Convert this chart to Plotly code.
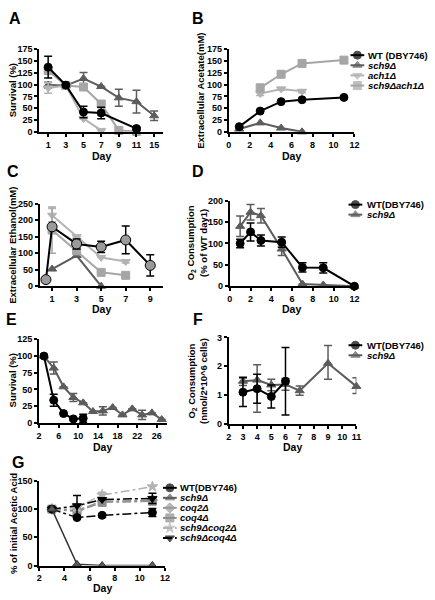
import plotly.graph_objects as go

W, H = 435, 600
FONT = "Liberation Sans, Arial, sans-serif"

# ---------------- data ----------------
# Panel A: survival (%)
A_days = ["1", "3", "5", "7", "9", "11", "15"]
A_wt = [137, 99, 42, 40, None, 7, None]
A_wt_err = [23, 0, 12, 12, 0, 3, 0]
A_sch9 = [99, 98, 113, 96, 72, 64, 34]
A_sch9_err = [6, 0, 13, 0, 18, 24, 10]
A_ach1 = [93, 98, 28, 3, None, None, None]
A_ach1_err = [11, 0, 0, 0, 0, 0, 0]
A_sch9ach1 = [130, 98, 95, 59, 3, 1, None]
A_sch9ach1_err = [8, 0, 7, 0, 0, 0, 0]

# Panel B: extracellular acetate (mM)
B_days = [1, 3, 5, 7, 11]
B_wt = [11, 44, 64, 68, 73]
B_sch9 = [6, 19, 8, 0, None]
B_ach1 = [None, 81, 91, 86, None]
B_ach1_err = [0, 4, 3, 3, 0]
B_sch9ach1 = [None, 93, 122, 145, 152]
B_sch9ach1_err = [0, 8, 4, 6, 3]

# Panel C: extracellular ethanol (mM)
C_days = [0.5, 1, 3, 5, 7, 9]
C_wt = [20, 180, 128, 119, 140, 63]
C_wt_err = [0, 0, 15, 17, 42, 32]
C_sch9 = [None, 52, 93, 0, None, None]
C_ach1 = [None, 215, 150, 87, 75, None]
C_ach1_err = [0, 20, 0, 0, 5, 0]
C_sch9ach1 = [None, 170, 107, 42, 33, None]
C_sch9ach1_err = [0, 70, 0, 0, 0, 0]

# Panel D: O2 consumption (% of WT day1)
D_days = [1, 2, 3, 5, 7, 9, 12]
D_wt = [100, 127, 107, 103, 44, 43, 0]
D_wt_err = [10, 21, 13, 12, 11, 12, 0]
D_sch9 = [140, 173, 165, 87, 5, 3, 0]
D_sch9_err = [24, 18, 17, 15, 0, 0, 0]

# Panel E: survival (%)
E_wt_days = [3, 5, 7, 9, 11]
E_wt = [100, 34, 14, 6, 7]
E_wt_err = [0, 9, 0, 0, 6]
E_sch9_days = [3, 5, 7, 9, 11, 13, 15, 17, 19, 21, 23, 25, 27]
E_sch9 = [100, 82, 54, 38, 30, 17, 18, 23, 12, 21, 12, 15, 5]
E_sch9_err = [0, 9, 0, 6, 0, 0, 6, 0, 0, 0, 7, 0, 0]

# Panel F: O2 consumption (nmol/2*10^6 cells)
F_wt_days = [3, 4, 5, 6]
F_wt = [1.1, 1.22, 0.95, 1.48]
F_wt_err = [0.5, 0.5, 0.4, 1.17]
F_sch9_days = [3, 4, 5, 6, 7, 9, 11]
F_sch9 = [1.48, 1.52, 1.35, 1.37, 1.15, 2.1, 1.3]
F_sch9_errp = [0.15, 0.53, 0.2, 0.2, 0.16, 0.62, 0.3]
F_sch9_errm = [0.15, 1.12, 0.2, 0.2, 0.16, 0.55, 0.25]

# Panel G: % of initial acetic acid
G_days = [3, 5, 7, 11]
G_wt = [100, 85, 89, 94]
G_wt_err = [0, 3, 3, 7]
G_sch9 = [100, 2, 0, 0]
G_coq2 = [100, 98, 114, 116]
G_coq4 = [100, 96, 112, 114]
G_sch9coq2 = [100, 103, 125, 140]
G_sch9coq2_err = [0, 5, 5, 0]
G_sch9coq4 = [100, 106, 117, 119]
G_sch9coq4_err = [0, 18, 0, 9]

# ---------------- styles ----------------
BLACK = "#000000"
DARK = "#5c5c5c"
LIGHT = "#b3b3b3"
LIGHT2 = "#a6a6a6"
MID = "#9a9a9a"
MID2 = "#8c8c8c"

fig = go.Figure()


def px_x(v):
    return v / W


def px_y(v):
    return 1 - v / H


def add(n, x, y, color, symbol, err=None, errm=None, dash="solid", fill=None,
        size=8, width=2, lc=None):
    ax = "" if n == 1 else str(n)
    ey = None
    if err is not None:
        ey = dict(type="data", array=err, color=color, thickness=1.5, width=4,
                  visible=True)
        if errm is not None:
            ey["arrayminus"] = errm
            ey["symmetric"] = False
    fig.add_trace(go.Scatter(
        x=x, y=y, xaxis="x" + ax, yaxis="y" + ax, mode="lines+markers",
        line=dict(color=lc or color, width=width, dash=dash),
        marker=dict(symbol=symbol, size=size, color=fill or color,
                    line=dict(color=lc or color, width=1)),
        error_y=ey, connectgaps=True, cliponaxis=False, showlegend=False,
        hoverinfo="skip"))


# A
add(1, A_days, A_sch9, DARK, "triangle-up", A_sch9_err)
add(1, A_days, A_ach1, LIGHT, "triangle-down", A_ach1_err)
add(1, A_days, A_sch9ach1, LIGHT2, "square", A_sch9ach1_err)
add(1, A_days, A_wt, BLACK, "circle", A_wt_err)
# B
add(2, B_days, B_sch9, DARK, "triangle-up")
add(2, B_days, B_ach1, LIGHT, "triangle-down", B_ach1_err)
add(2, B_days, B_sch9ach1, LIGHT2, "square", B_sch9ach1_err)
add(2, B_days, B_wt, BLACK, "circle")
# C
add(3, C_days, C_sch9, DARK, "triangle-up")
add(3, C_days, C_ach1, LIGHT, "triangle-down", C_ach1_err)
add(3, C_days, C_sch9ach1, LIGHT2, "square", C_sch9ach1_err)
add(3, C_days, C_wt, BLACK, "circle", C_wt_err, fill=MID, size=10)
# D
add(4, D_days, D_sch9, DARK, "triangle-up", D_sch9_err)
add(4, D_days, D_wt, BLACK, "circle", D_wt_err)
# E
add(5, E_sch9_days, E_sch9, DARK, "triangle-up", E_sch9_err)
add(5, E_wt_days, E_wt, BLACK, "circle", E_wt_err)
# F
add(6, F_sch9_days, F_sch9, DARK, "triangle-up", F_sch9_errp, F_sch9_errm)
add(6, F_wt_days, F_wt, BLACK, "circle", F_wt_err)
# G
add(7, G_days, G_coq2, MID, "diamond", dash="dashdot", width=1.5)
add(7, G_days, G_coq4, MID2, "square", dash="dashdot", width=1.5)
add(7, G_days, G_sch9coq2, LIGHT, "star", G_sch9coq2_err, dash="dashdot", width=1.5)
add(7, G_days, G_sch9coq4, BLACK, "triangle-down", G_sch9coq4_err, dash="dashdot", width=1.5)
add(7, G_days, G_wt, BLACK, "circle", G_wt_err, dash="dashdot", width=1.5)
add(7, G_days, G_sch9, DARK, "triangle-up", width=1.5, lc="#333333")

# ---------------- axes ----------------
tickfont = dict(family=FONT, size=9, color="black", weight="bold")


def axis(n, xd, yd, xr, yr, xtv=None, xtt=None, ytv=None, xtype="linear"):
    ax = "" if n == 1 else str(n)
    common = dict(showline=True, linewidth=2, linecolor="black", ticks="outside",
                  ticklen=3, tickwidth=2, tickcolor="black", showgrid=False,
                  zeroline=False, tickfont=tickfont, fixedrange=True)
    xa = dict(common, domain=[px_x(xd[0]), px_x(xd[1])], range=xr,
              anchor="y" + ax, type=xtype)
    if xtype == "category":
        xa["categoryorder"] = "array"
        xa["categoryarray"] = xtt
    else:
        xa["tickmode"] = "array"
        xa["tickvals"] = xtv
        if xtt is not None:
            xa["ticktext"] = xtt
    ya = dict(common, domain=[px_y(yd[1]), px_y(yd[0])], range=yr,
              anchor="x" + ax, tickmode="array", tickvals=ytv)
    fig.layout["xaxis" + ax] = xa
    fig.layout["yaxis" + ax] = ya


axis(1, (37, 163), (45, 129), [-0.5, 6.5], [0, 175], xtt=A_days,
     ytv=list(range(0, 176, 25)), xtype="category")
axis(2, (230, 358), (45, 129), [0, 12], [0, 175], xtv=list(range(0, 13, 2)),
     ytv=list(range(0, 176, 25)))
axis(3, (37.5, 162.5), (202, 286), [0, 10], [0, 250], xtv=[1, 3, 5, 7, 9],
     ytv=list(range(0, 251, 50)))
axis(4, (231, 358), (199, 286), [0, 12], [0, 200], xtv=list(range(0, 13, 2)),
     ytv=list(range(0, 201, 50)))
axis(5, (36.7, 166.7), (340, 425), [2, 28], [0, 125], xtv=list(range(2, 27, 4)),
     ytv=list(range(0, 126, 25)))
axis(6, (230, 360), (338, 426), [2, 11], [0, 3], xtv=list(range(2, 12)),
     ytv=[0, 1, 2, 3])
axis(7, (37, 165), (484, 570), [2, 12], [0, 150], xtv=list(range(2, 13, 2)),
     ytv=[0, 50, 100, 150])

# overlay axis for legend glyphs (pixel space)
fig.layout["xaxis8"] = dict(domain=[0, 1], range=[0, W], visible=False,
                            fixedrange=True, anchor="y8")
fig.layout["yaxis8"] = dict(domain=[0, 1], range=[H, 0], visible=False,
                            fixedrange=True, anchor="x8")

annotations = []


def text(x, y, s, size=10, angle=0, xanchor="center", weight="bold"):
    annotations.append(dict(x=px_x(x), y=px_y(y), xref="paper", yref="paper",
                            text=s, showarrow=False, textangle=angle,
                            xanchor=xanchor, yanchor="middle", borderpad=0,
                            font=dict(family=FONT, size=size, color="black",
                                      weight=weight)))


def legend(mx, tx, y0, dy, entries):
    for i, (label, color, symbol, dash, fill) in enumerate(entries):
        yy = y0 + i * dy
        fig.add_trace(go.Scatter(
            x=[mx - 7, mx, mx + 7], y=[yy, yy, yy], xaxis="x8", yaxis="y8",
            mode="lines+markers", line=dict(color=color, width=2, dash=dash),
            marker=dict(symbol=symbol, size=[0, 8, 0], color=fill or color,
                        line=dict(color=color, width=1)),
            showlegend=False, hoverinfo="skip", cliponaxis=False))
        text(tx, yy, label, size=9.5, xanchor="left")


legend(361, 371, 51, 10.3, [
    ("WT (DBY746)", BLACK, "circle", "solid", None),
    ("<i>sch9Δ</i>", DARK, "triangle-up", "solid", None),
    ("<i>ach1Δ</i>", LIGHT, "triangle-down", "solid", None),
    ("<i>sch9Δach1Δ</i>", LIGHT2, "square", "solid", None),
])
legend(359, 370, 203, 10.2, [
    ("WT(DBY746)", BLACK, "circle", "solid", None),
    ("<i>sch9Δ</i>", DARK, "triangle-up", "solid", None),
])
legend(359, 370, 346, 10.2, [
    ("WT(DBY746)", BLACK, "circle", "solid", None),
    ("<i>sch9Δ</i>", DARK, "triangle-up", "solid", None),
])
legend(170, 179, 491, 10.2, [
    ("WT(DBY746)", BLACK, "circle", "solid", None),
    ("<i>sch9Δ</i>", DARK, "triangle-up", "solid", None),
    ("<i>coq2Δ</i>", MID, "diamond", "solid", None),
    ("<i>coq4Δ</i>", MID2, "square", "solid", None),
    ("<i>sch9Δcoq2Δ</i>", LIGHT, "star", "dashdot", None),
    ("<i>sch9Δcoq4Δ</i>", BLACK, "triangle-down", "dashdot", None),
])

# panel letters
for letter, x, y in [("A", 12, 14), ("B", 199, 14), ("C", 10, 169), ("D", 199, 169),
                     ("E", 9, 320), ("F", 199, 320), ("G", 15, 465)]:
    text(x, y, letter, size=16)

# axis titles
text(10, 87, "Survival (%)", angle=-90, size=9.5)
text(201, 87, "Extracellular Acetate(mM)", angle=-90, size=9.5)
text(10, 244, "Extracellular Ethanol(mM)", angle=-90, size=9.5)
text(198, 242, "O<sub>2</sub> Consumption<br>(% of WT day1)", angle=-90, size=9.5)
text(10, 382, "Survival (%)", angle=-90, size=9.5)
text(198, 382, "O<sub>2</sub> Consumption<br>(nmol/2*10^6 cells)", angle=-90, size=9.5)
text(10, 527, "% of initial Acetic Acid", angle=-90, size=9.5)
for x, y in [(100, 154), (294, 154), (100, 309), (294, 309), (101, 449),
             (295, 449), (101, 593)]:
    text(x, y, "Day", size=10.5)

fig.update_layout(width=W, height=H, margin=dict(l=0, r=0, t=0, b=0),
                  paper_bgcolor="white", plot_bgcolor="rgba(0,0,0,0)",
                  showlegend=False, annotations=annotations,
                  font=dict(family=FONT))

fig.write_html(
    "out.html",
    config={"displayModeBar": False},
    post_script=["document.body.style.margin='0';"
                 "document.body.style.overflow='hidden';"])
